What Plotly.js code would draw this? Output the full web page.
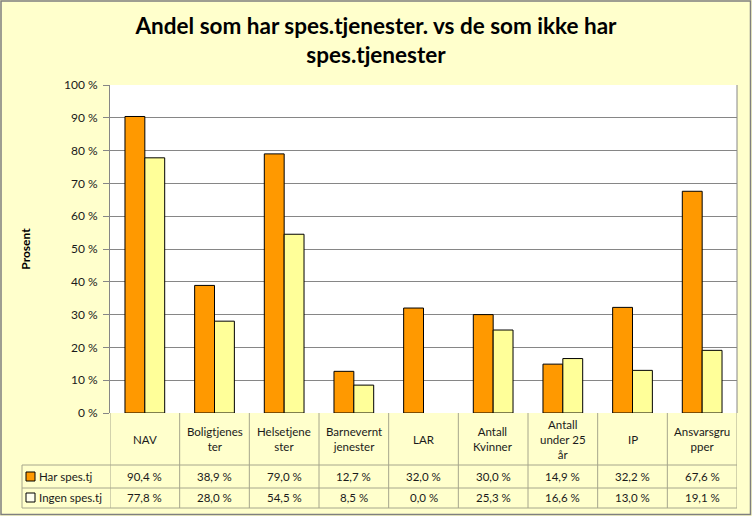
<!DOCTYPE html>
<html>
<head>
<meta charset="utf-8">
<script src="https://cdn.plot.ly/plotly-3.0.1.min.js"></script>
<style>html,body{margin:0;padding:0;background:#FFFFCC;}</style>
</head>
<body>
<div id="chart" style="width:752px;height:516px;"></div>
<script>
const categories = ["NAV", "Boligtjenes<br>ter", "Helsetjene<br>ster", "Barnevernt<br>jenester", "LAR", "Antall<br>Kvinner", "Antall<br>under 25<br>år", "IP", "Ansvarsgru<br>pper"];
const seriesNames = ["Har spes.tj", "Ingen spes.tj"];
const harSpes = [90.4, 38.9, 79.0, 12.7, 32.0, 30.0, 14.9, 32.2, 67.6];
const ingenSpes = [77.8, 28.0, 54.5, 8.5, 0.0, 25.3, 16.6, 13.0, 19.1];
const yTickVals = [0, 10, 20, 30, 40, 50, 60, 70, 80, 90, 100];
const yTickText = ["0 %", "10 %", "20 %", "30 %", "40 %", "50 %", "60 %", "70 %", "80 %", "90 %", "100 %"];

const W = 752, H = 516;
const M = {l: 110, r: 15, t: 85, b: 103};
const plotW = W - M.l - M.r, plotH = H - M.t - M.b;
const colors = ["#FF9900", "#FFFF99"];
const font = "Lato, 'Open Sans', sans-serif";
const gridCol = "#868686";
const tableCol = "#A6A68C";
const txtCol = "#1a1a1a";

const idx = categories.map((_, i) => i);
const fmt = v => v.toFixed(1).replace('.', ',') + ' %';
const py = p => (H - M.b - p) / plotH;      // pixel y -> paper y
const px = p => (p - M.l) / plotW;          // pixel x -> paper x

const traces = [harSpes, ingenSpes].map((vals, s) => ({
  type: 'bar', x: idx, y: vals, name: seriesNames[s],
  marker: {color: colors[s], line: {color: '#000', width: vals.map(v => v > 0 ? 1 : 0)}},
  hoverinfo: 'skip'
}));

const rowY = [py(465), py(488), py(508)];
const shapes = [];
rowY.forEach(y => shapes.push({type:'line', xref:'paper', yref:'paper', x0:px(22), x1:1, y0:y, y1:y, line:{color:tableCol, width:1}}));
for (let i = 0; i <= categories.length; i++) {
  shapes.push({type:'line', xref:'x', yref:'paper', x0:i-0.5, x1:i-0.5, y0:0, y1:rowY[2], line:{color:tableCol, width:1}});
}
shapes.push({type:'line', xref:'paper', yref:'paper', x0:px(22), x1:px(22), y0:rowY[0], y1:rowY[2], line:{color:tableCol, width:1}});
[py(476.5), py(497.5)].forEach((yc, s) => {
  const h = 9 / plotH, w = 9 / plotW;
  shapes.push({type:'rect', xref:'paper', yref:'paper', x0:px(26), x1:px(26)+w, y0:yc-h/2, y1:yc+h/2,
    fillcolor: s === 0 ? colors[0] : '#FFFFF0', line:{color:'#000', width:1}});
});
shapes.push({type:'line', xref:'paper', yref:'paper', x0:1, x1:1, y0:0, y1:1, line:{color:gridCol, width:1}});
shapes.push({type:'rect', xref:'paper', yref:'paper', x0:px(1), x1:px(750.5), y0:py(514.5), y1:py(1),
  line:{color:'#7F7F7F', width:1.5}, fillcolor:'rgba(0,0,0,0)'});

const annotations = [];
const tf = {family:font, size:11.5, color:txtCol};
idx.forEach(i => {
  annotations.push({x:i, xref:'x', yref:'paper', y:py(439), text:categories[i], showarrow:false,
    font:tf, yanchor:'middle', xanchor:'center'});
  annotations.push({x:i, xref:'x', yref:'paper', y:py(476.5), text:fmt(harSpes[i]), showarrow:false,
    font:tf, yanchor:'middle'});
  annotations.push({x:i, xref:'x', yref:'paper', y:py(497.5), text:fmt(ingenSpes[i]), showarrow:false,
    font:tf, yanchor:'middle'});
});
seriesNames.forEach((n, s) => {
  annotations.push({x:px(37), xref:'paper', yref:'paper', y:py(s === 0 ? 476.5 : 497.5), text:n, showarrow:false,
    xanchor:'left', yanchor:'middle', font:tf});
});

const layout = {
  width: W, height: H,
  margin: M,
  paper_bgcolor: '#FFFFCC', plot_bgcolor: '#FFFFFF',
  showlegend: false,
  barmode: 'group', bargap: 0.43, bargroupgap: 0,
  title: {text: 'Andel som har spes.tjenester. vs de som ikke har<br>spes.tjenester',
    font: {family: font, size: 22.5, color: '#000', weight: 'bold'},
    x: 0.5, xanchor: 'center', y: 1 - 34 / H, yanchor: 'middle'},
  xaxis: {range: [-0.5, categories.length - 0.5], showticklabels: false, showgrid: false,
    zeroline: false, showline: false, fixedrange: true},
  yaxis: {range: [0, 100], tickvals: yTickVals, ticktext: yTickText, showgrid: true, gridcolor: gridCol, gridwidth: 1,
    showline: true, linecolor: gridCol, linewidth: 1, ticks: 'outside', ticklen: 6, tickcolor: gridCol,
    ticklabelstandoff: 3,
    tickfont: {family: font, size: 12, color: txtCol}, zeroline: false,
    title: {text: 'Prosent', font: {family: font, size: 12, color: '#000', weight: 'bold'}, standoff: 30}},
  shapes: shapes, annotations: annotations
};

Plotly.newPlot('chart', traces, layout, {staticPlot: true, displayModeBar: false});
</script>
</body>
</html>
